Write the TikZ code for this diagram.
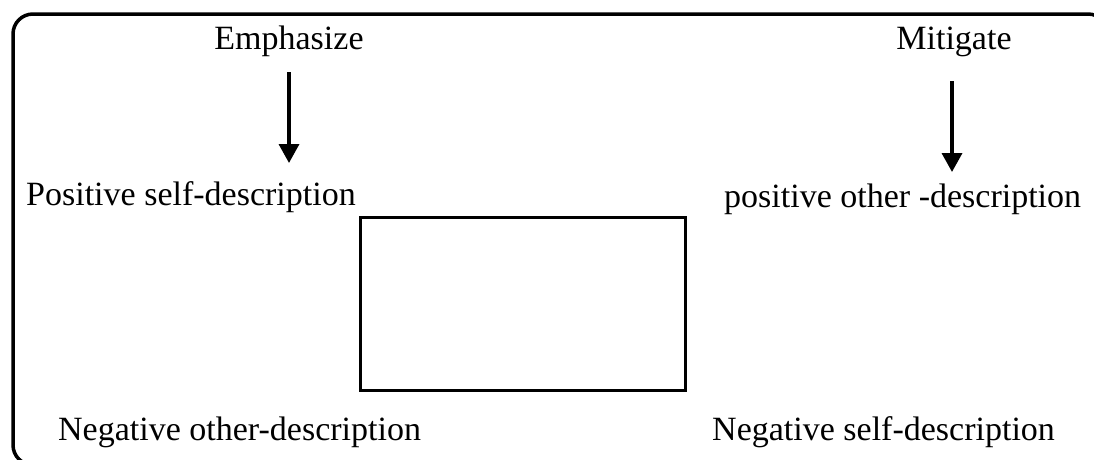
\documentclass[tikz,border=0pt]{standalone}
\usepackage{fontspec}
\setmainfont{Liberation Serif}
\usetikzlibrary{arrows.meta}
\begin{document}
\begin{tikzpicture}[x=1pt,y=-1pt,
  label/.style={inner sep=0pt,font=\fontsize{34}{40}\selectfont},
  frame/.style={line width=3.5pt,rounded corners=20pt},
  box/.style={draw,line width=3pt},
  pointer/.style={line width=3.5pt,-{Triangle[width=20pt,length=19pt]}}]
\useasboundingbox (0,0) rectangle (1094,459);
% outer frame, running off the lower and right edges
\draw[frame] (1108,300) -- (1108,14) -- (13,14) -- (13,465) -- (300,465);
% headings
\node[label,anchor=base] (emph) at (289,49) {Emphasize};
\node[label,anchor=base] (miti) at (954,49) {Mitigate};
% four descriptions
\node[label,anchor=base west] (psd) at (26,205) {Positive self-description};
\node[label,anchor=base west] (pod) at (724,207) {positive other -description};
\node[label,anchor=base west] (nod) at (58,440) {Negative other-description};
\node[label,anchor=base west] (nsd) at (712,440) {Negative self-description};
% central box
\node[box,minimum width=325pt,minimum height=173pt,inner sep=0pt] (core) at (522.5,303.5) {};
% arrows
\coordinate (a1s) at (289,72);
\coordinate (a1e) at (289,163);
\coordinate (a2s) at (952,81);
\coordinate (a2e) at (952,172);
\draw[pointer] (a1s) -- (a1e);
\draw[pointer] (a2s) -- (a2e);
\end{tikzpicture}
\end{document}
